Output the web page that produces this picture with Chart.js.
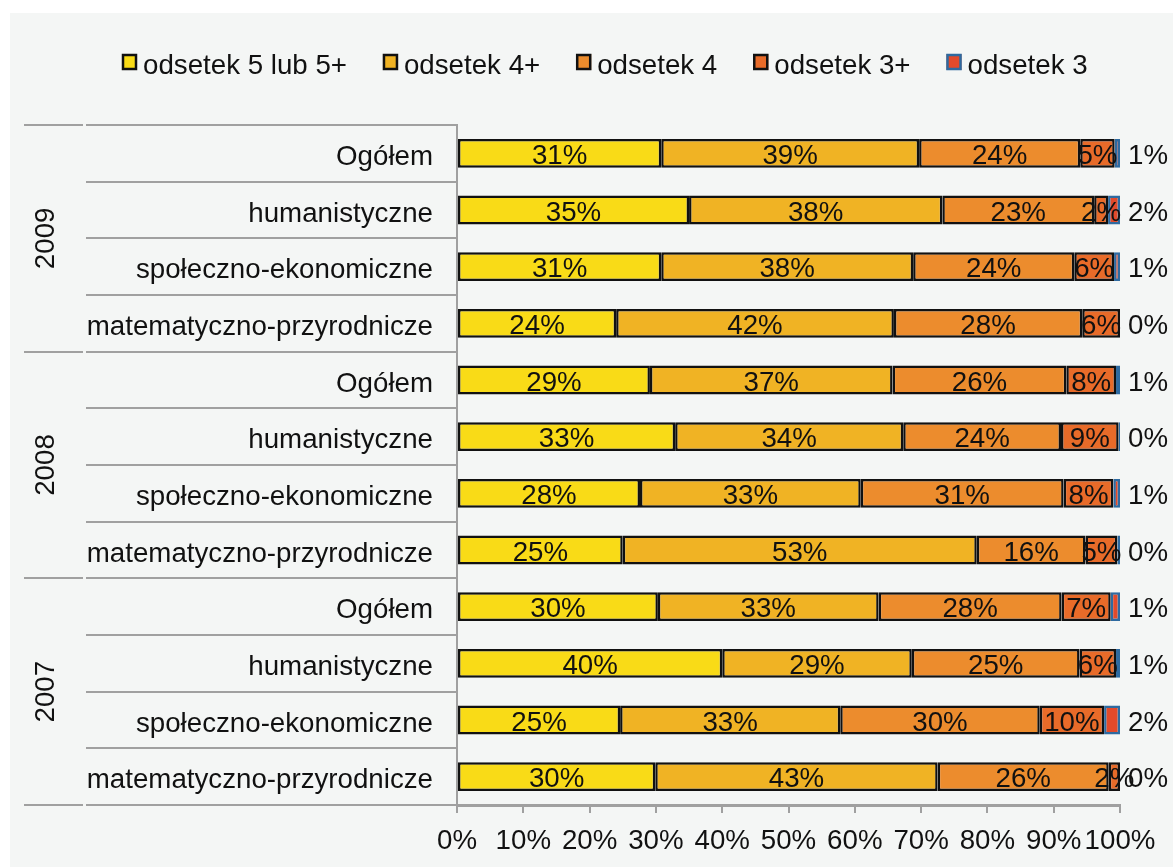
<!DOCTYPE html>
<html lang="pl">
<head>
<meta charset="utf-8">
<title>Odsetek ocen</title>
<script src="https://cdn.jsdelivr.net/npm/chart.js@4.4.1/dist/chart.umd.min.js"></script>
<style>
  html, body { margin: 0; padding: 0; background: #fff; }
  #wrap { position: relative; width: 1173px; height: 867px; }
</style>
</head>
<body>
<div id="wrap"><canvas id="myChart"></canvas></div>
<script>
// Categories (top to bottom) and year groups
const categories = [
  "Ogółem", "humanistyczne", "społeczno-ekonomiczne", "matematyczno-przyrodnicze",
  "Ogółem", "humanistyczne", "społeczno-ekonomiczne", "matematyczno-przyrodnicze",
  "Ogółem", "humanistyczne", "społeczno-ekonomiczne", "matematyczno-przyrodnicze"
];
const years = ["2009", "2008", "2007"];
const groupSize = 4;

// Series (percent of pupils)
const seriesNames = ["odsetek 5 lub 5+", "odsetek 4+", "odsetek 4", "odsetek 3+", "odsetek 3"];
const odsetek5 = [30.8, 35.0, 30.8, 24.0, 29.1, 32.9, 27.6, 25.0, 30.3, 40.0, 24.6, 29.9];
const odsetek4plus = [38.9, 38.2, 38.0, 41.9, 36.6, 34.4, 33.3, 53.4, 33.3, 28.6, 33.2, 42.6];
const odsetek4 = [24.3, 22.9, 24.3, 28.4, 26.2, 23.8, 30.6, 16.4, 27.6, 25.3, 30.1, 25.8];
const odsetek3plus = [5.2, 2.1, 6.0, 5.7, 7.5, 8.7, 7.5, 4.8, 7.4, 5.5, 9.7, 1.7];
const odsetek3 = [0.8, 1.8, 0.9, 0, 0.6, 0.2, 1.0, 0.4, 1.4, 0.6, 2.4, 0];

const fillColors = ["#f9db17", "#f0b324", "#ec8c2d", "#e86b29", "#e24a2b"];
const borderColors = ["#111", "#111", "#111", "#111", "#2e6aa0"];
const gridGray = "#a0a0a0";
const fontFamily = '"Liberation Sans", Arial, sans-serif';
const fontSize = 27.7;

Chart.defaults.font.family = fontFamily;
Chart.defaults.font.size = fontSize;
Chart.defaults.color = "#111";

// Light grey panel behind the chart
const backgroundPlugin = {
  id: "background",
  beforeDraw: (chart) => {
    const ctx = chart.ctx;
    ctx.save();
    ctx.fillStyle = "#fff";
    ctx.fillRect(0, 0, chart.width, chart.height);
    ctx.fillStyle = "#f4f6f5";
    ctx.fillRect(10, 13, chart.width - 10, chart.height - 13);
    ctx.restore();
  },
};

// Row separators and rotated year labels on the left
const groupsPlugin = {
  id: "groups",
  afterDraw: (chart) => {
    const ctx = chart.ctx;
    const y = chart.scales.y;
    const left = chart.chartArea.left;
    const half = (y.getPixelForValue(1) - y.getPixelForValue(0)) / 2;
    ctx.save();
    ctx.strokeStyle = gridGray;
    ctx.lineWidth = 2;
    for (let i = 0; i <= categories.length; i++) {
      const yb = Math.round(y.getPixelForValue(i) - half);
      ctx.beginPath();
      ctx.moveTo(86, yb);
      ctx.lineTo(left, yb);
      if (i % groupSize === 0) {
        ctx.moveTo(24, yb);
        ctx.lineTo(83, yb);
      }
      ctx.stroke();
    }
    ctx.fillStyle = "#111";
    ctx.font = fontSize + "px " + fontFamily;
    ctx.textAlign = "center";
    ctx.textBaseline = "middle";
    years.forEach((year, g) => {
      const yc = (y.getPixelForValue(g * groupSize) + y.getPixelForValue(g * groupSize + groupSize - 1)) / 2;
      ctx.save();
      ctx.translate(46, yc);
      ctx.rotate(-Math.PI / 2);
      ctx.fillText(year, 0, 0);
      ctx.restore();
    });
    ctx.restore();
  },
};

// Percent labels on the bars
const valueLabelsPlugin = {
  id: "valueLabels",
  afterDatasetsDraw: (chart) => {
    const ctx = chart.ctx;
    const last = chart.data.datasets.length - 1;
    ctx.save();
    ctx.fillStyle = "#111";
    ctx.font = fontSize + "px " + fontFamily;
    ctx.textBaseline = "middle";
    chart.data.datasets.forEach((ds, di) => {
      const meta = chart.getDatasetMeta(di);
      meta.data.forEach((bar, i) => {
        const txt = Math.round(ds.data[i]) + "%";
        if (di === last) {
          ctx.textAlign = "left";
          ctx.fillText(txt, bar.x + 8, bar.y + 3);
        } else {
          ctx.textAlign = "center";
          ctx.fillText(txt, (bar.x + bar.base) / 2, bar.y + 3);
        }
      });
    });
    ctx.restore();
  },
};

// Legend drawn by hand to get the tight box/text spacing
const legendPlugin = {
  id: "customLegend",
  afterDraw: (chart) => {
    const ctx = chart.ctx;
    let x = 122;
    ctx.save();
    ctx.font = fontSize + "px " + fontFamily;
    ctx.textAlign = "left";
    ctx.textBaseline = "alphabetic";
    chart.data.datasets.forEach((ds) => {
      ctx.fillStyle = ds.backgroundColor;
      ctx.fillRect(x, 54, 15, 16);
      ctx.strokeStyle = ds.borderColor;
      ctx.lineWidth = 2.5;
      ctx.strokeRect(x + 1, 55, 13, 14);
      ctx.fillStyle = "#111";
      ctx.fillText(ds.label, x + 21, 74);
      x += 21 + ctx.measureText(ds.label).width + 36;
    });
    ctx.restore();
  },
};

const seriesData = [odsetek5, odsetek4plus, odsetek4, odsetek3plus, odsetek3];

const chartOptions = {
  type: "bar",
  data: {
    labels: categories,
    datasets: seriesData.map((data, i) => ({
      label: seriesNames[i],
      data: data,
      backgroundColor: fillColors[i],
      borderColor: borderColors[i],
      borderWidth: 2.5,
      borderSkipped: false,
      barPercentage: 0.51,
      categoryPercentage: 1,
    })),
  },
  options: {
    indexAxis: "y",
    responsive: true,
    maintainAspectRatio: false,
    animation: false,
    layout: {
      padding: { top: 125, right: 53, left: 0, bottom: 0 },
    },
    plugins: {
      legend: { display: false },
      tooltip: { enabled: false },
    },
    scales: {
      x: {
        stacked: true,
        min: 0,
        max: 100,
        ticks: {
          stepSize: 10,
          autoSkip: false,
          padding: 12,
          maxRotation: 0,
          callback: (value) => value + "%",
        },
        grid: {
          drawOnChartArea: false,
          drawTicks: true,
          tickLength: 8,
          color: gridGray,
          lineWidth: 2,
        },
        border: { display: true, color: gridGray, width: 3 },
        afterFit: (scale) => {
          scale.height = 62;
        },
      },
      y: {
        stacked: true,
        ticks: {
          autoSkip: false,
          padding: 24,
          labelOffset: 4,
        },
        grid: { display: false, drawTicks: false },
        border: { display: true, color: gridGray, width: 2 },
        afterFit: (scale) => {
          scale.width = 457;
        },
      },
    },
  },
  plugins: [backgroundPlugin, groupsPlugin, valueLabelsPlugin, legendPlugin],
};

const ctx = document.getElementById("myChart").getContext("2d");
const myChart = new Chart(ctx, chartOptions);
</script>
</body>
</html>
